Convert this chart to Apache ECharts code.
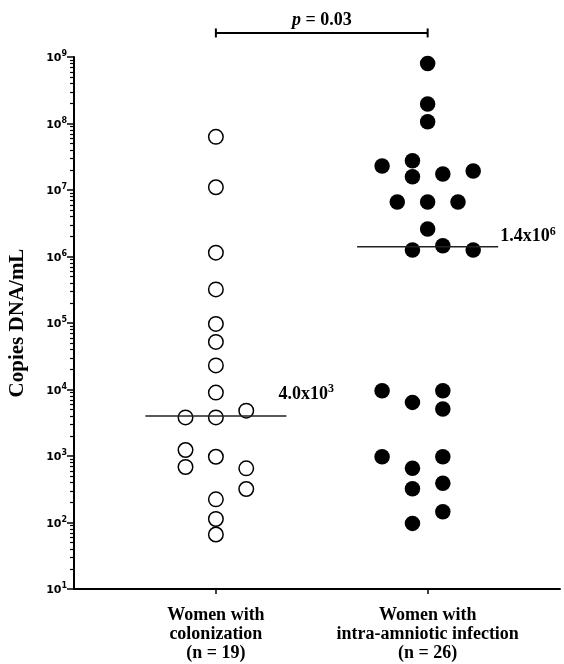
<!DOCTYPE html>
<html>
<head>
<meta charset="utf-8">
<script src="https://cdn.jsdelivr.net/npm/echarts@6/dist/echarts.min.js"></script>
<style>html,body{margin:0;padding:0;background:#fff}#c{width:564px;height:664px}</style>
</head>
<body>
<div id="c"></div>
<script>
// ---- data ----
const categories = ['Women with\ncolonization\n(n = 19)', 'Women with\nintra-amniotic infection\n(n = 26)'];
const colonizationValues = [6.3e7, 1.1e7, 1.14e6, 3.2e5, 9.7e4, 5.2e4, 2.3e4, 9.0e3, 3.8e3, 975, 223, 113, 66, 3.8e3, 1230, 684, 4.8e3, 653, 319];
const colonizationColumn = [0, 0, 0, 0, 0, 0, 0, 0, 0, 0, 0, 0, 0, -2, -2, -2, 2, 2, 2];
const infectionValues = [8.0e8, 1.96e8, 1.06e8, 2.3e7, 2.76e7, 1.58e7, 1.74e7, 1.93e7, 6.6e6, 6.6e6, 6.6e6, 2.6e6, 1.25e6, 1.45e6, 1.25e6, 9.6e3, 6.4e3, 9.6e3, 5.1e3, 975, 653, 322, 975, 388, 145, 97];
const infectionColumn = [0, 0, 0, -3, -1, -1, 1, 3, -2, 0, 2, 0, -1, 1, 3, -3, -1, 1, 1, -3, -1, -1, 1, 1, 1, -1];
const medians = [4.0e3, 1.4e6];
const medianMantissa = ['4.0', '1.4'];
const medianExponent = ['3', '6'];
const majorTicks = [10, 100, 1e3, 1e4, 1e5, 1e6, 1e7, 1e8, 1e9];
const majorTickExponents = ['1', '2', '3', '4', '5', '6', '7', '8', '9'];
const minorMultipliers = [2, 3, 4, 5, 6, 7, 8, 9];
const pValueText = '0.03';

// ---- layout constants ----
const STEP = 0.0717;      // horizontal jitter step (x units)
const HALF = 0.333;       // half-width of median line
const BRACKET_VALUE = 2.3e9;

const minorTicks = [];
for (let d = 1; d < 9; d++) {
  for (const m of minorMultipliers) minorTicks.push(m * Math.pow(10, d));
}

const serif = 'Liberation Serif';
const chart = echarts.init(document.getElementById('c'), null, {renderer: 'canvas'});

const colData = colonizationValues.map((v, i) => [1 + colonizationColumn[i] * STEP, v]);
const infData = infectionValues.map((v, i) => [2 + infectionColumn[i] * STEP, v]);

const medianLabelOffsets = [[-8, -23], [2, -11]];

const series = [
  {
    type: 'scatter', data: colData, symbol: 'circle', symbolSize: 14.5, z: 3,
    itemStyle: {color: '#fff', borderColor: '#000', borderWidth: 1.5, opacity: 1}
  },
  {
    type: 'scatter', data: infData, symbol: 'circle', symbolSize: 15.5, z: 3,
    itemStyle: {color: '#000', opacity: 1}
  }
];
medians.forEach((m, i) => {
  series.push({
    type: 'line', data: [[i + 1 - HALF, m], [i + 1 + HALF, m]], symbol: 'none', z: 4,
    lineStyle: {color: '#222', width: 1.5}
  });
});
series.push({
  type: 'scatter', symbolSize: 0, clip: false, z: 5,
  itemStyle: {opacity: 1},
  data: medians.map((m, i) => ({
    value: [i + 1 + HALF, m],
    label: {
      show: true, position: 'right', distance: 0, align: 'left', offset: medianLabelOffsets[i],
      formatter: '{b|' + medianMantissa[i] + 'x10}{s|' + medianExponent[i] + '}',
      rich: {
        b: {fontFamily: serif, fontWeight: 'bold', fontSize: 18, color: '#000', lineHeight: 20, verticalAlign: 'bottom'},
        s: {fontFamily: serif, fontWeight: 'bold', fontSize: 12, color: '#000', lineHeight: 12, verticalAlign: 'top'}
      }
    }
  }))
});
// significance bracket
series.push({
  type: 'line', clip: false, z: 5,
  data: [[1, BRACKET_VALUE], [2, BRACKET_VALUE]],
  symbol: 'rect', symbolSize: [2, 9],
  itemStyle: {color: '#000'},
  lineStyle: {color: '#000', width: 2}
});
series.push({
  type: 'scatter', clip: false, symbolSize: 0, z: 5,
  itemStyle: {opacity: 1},
  data: [{
    value: [1.5, BRACKET_VALUE],
    label: {
      show: true, position: 'top', distance: 4,
      formatter: '{i|p}{b| = ' + pValueText + '}',
      rich: {
        i: {fontFamily: serif, fontWeight: 'bold', fontStyle: 'italic', fontSize: 18, color: '#000'},
        b: {fontFamily: serif, fontWeight: 'bold', fontSize: 18, color: '#000'}
      }
    }
  }]
});

chart.setOption({
  animation: false,
  backgroundColor: '#fff',
  grid: {left: 74, right: 4, top: 57, bottom: 75, containLabel: false, outerBoundsMode: 'none'},
  xAxis: {
    type: 'value', min: 0.33, max: 2.625,
    splitLine: {show: false},
    axisLine: {onZero: false, lineStyle: {color: '#000', width: 2}},
    axisTick: {customValues: [1, 2], length: 5, lineStyle: {color: '#000', width: 1.5}},
    axisLabel: {
      customValues: [1, 2],
      formatter: v => categories[Math.round(v) - 1],
      fontFamily: serif, fontWeight: 'bold', fontSize: 18, lineHeight: 19, color: '#000', margin: 17
    }
  },
  yAxis: [
    {
      type: 'log', logBase: 10, min: 10, max: 1e9, position: 'left',
      splitLine: {show: false},
      axisLine: {lineStyle: {color: '#000', width: 2}},
      axisTick: {customValues: majorTicks, length: 7, lineStyle: {color: '#000', width: 1.5}},
      axisLabel: {
        customValues: majorTicks, margin: 7,
        formatter: v => '{b|10}{s|' + majorTickExponents[majorTicks.indexOf(v)] + '}',
        rich: {
          b: {fontFamily: 'DejaVu Sans', fontWeight: 'bold', fontSize: 11, color: '#000', lineHeight: 14, verticalAlign: 'bottom', padding: [4, 0, 0, 0]},
          s: {fontFamily: 'DejaVu Sans', fontWeight: 'bold', fontSize: 8, color: '#000', lineHeight: 8, verticalAlign: 'top'}
        }
      },
      name: 'Copies DNA/mL', nameLocation: 'middle', nameGap: 46, nameRotate: 90,
      nameTextStyle: {fontFamily: serif, fontWeight: 'bold', fontSize: 21, color: '#000'}
    },
    {
      type: 'log', logBase: 10, min: 10, max: 1e9, position: 'left',
      splitLine: {show: false},
      axisLine: {show: false},
      axisLabel: {show: false},
      axisTick: {customValues: minorTicks, length: 4, lineStyle: {color: '#000', width: 1.2}}
    }
  ],
  series: series
});
</script>
</body>
</html>
